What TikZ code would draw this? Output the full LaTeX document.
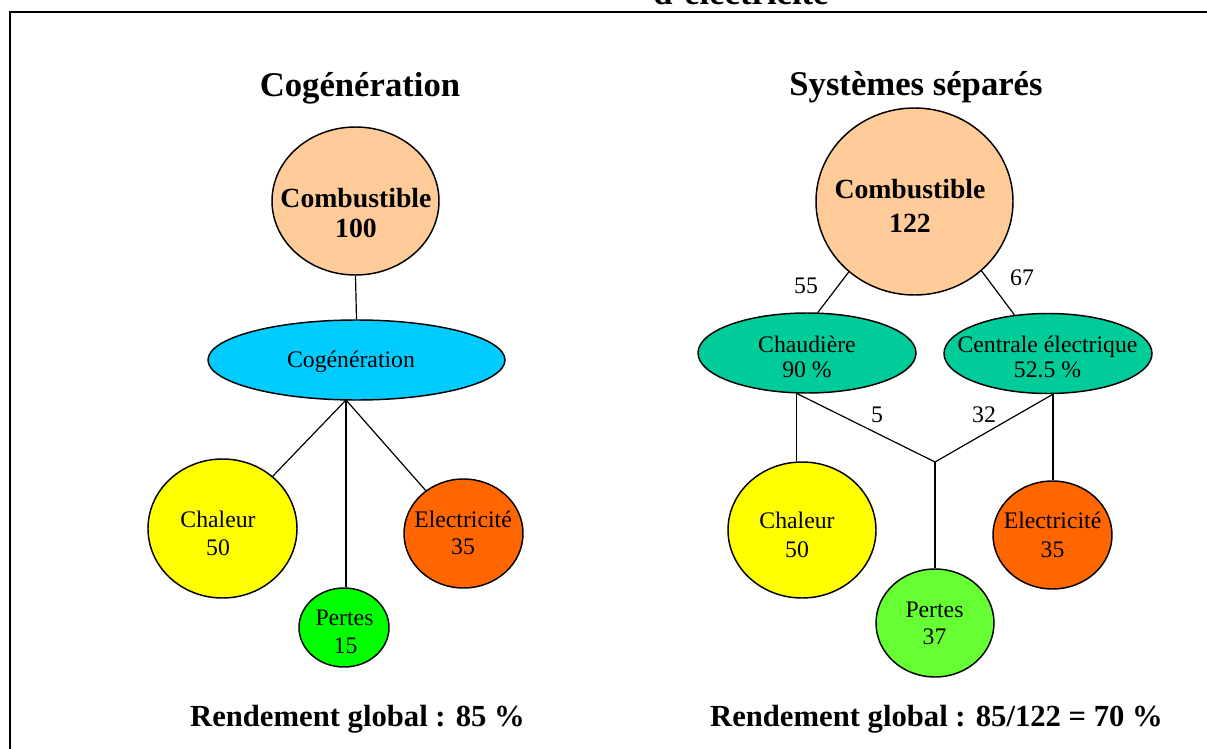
\documentclass[tikz,border=0pt]{standalone}
\usepackage{fontspec}
\setmainfont{Liberation Serif}
\usetikzlibrary{shapes.geometric}
\definecolor{peach}{HTML}{FFCC99}
\definecolor{cyanb}{HTML}{00CCFF}
\definecolor{yel}{HTML}{FFFF00}
\definecolor{grnA}{HTML}{00FF00}
\definecolor{grnB}{HTML}{66FF33}
\definecolor{orng}{HTML}{FF6600}
\definecolor{tealg}{HTML}{00CC99}
\begin{document}
\begin{tikzpicture}[x=0.75pt,y=-0.75pt,
  blob/.style={ellipse, draw=black, line width=1.1pt, inner sep=0pt},
  link/.style={line width=0.9pt},
  txt/.style={font=\fontsize{17.8}{21.5}\selectfont, anchor=base, inner sep=0pt},
  btxt/.style={font=\bfseries\fontsize{20.8}{22.5}\selectfont, anchor=base, inner sep=0pt},
  ttl/.style={font=\bfseries\fontsize{26}{30}\selectfont, anchor=base, inner sep=0pt},
  summ/.style={font=\bfseries\fontsize{23}{27}\selectfont, anchor=base, inner sep=0pt}]
\useasboundingbox (0,0) rectangle (1207,749);
% frame and cut title
\node[ttl] (cut) at (741,5) {d’électricité};
\draw[line width=1.5pt] (1207,12) -- (10,12) -- (10,749);

% ---------- left: cogeneration ----------
\node[ttl] (t1) at (360,97) {Cogénération};
\node[blob, fill=peach, minimum width=125.25pt, minimum height=111pt] (comb1) at (355.5,201) {};
\node[btxt] (comb1a) at (356,207) {Combustible};
\node[btxt] (comb1b) at (356,237) {100};
\node[blob, fill=cyanb, minimum width=222.75pt, minimum height=60pt] (cogen) at (356.5,360) {};
\node[txt] (cogenT) at (351,367) {Cogénération};
\node[blob, fill=yel, minimum width=111.75pt, minimum height=104.25pt] (chal1) at (222.5,528.5) {};
\node[txt] (chal1a) at (218,527) {Chaleur};
\node[txt] (chal1b) at (218,555) {50};
\node[blob, fill=grnA, minimum width=67.5pt, minimum height=59.25pt] (pert1) at (344,627.5) {};
\node[txt] (pert1a) at (344.5,625) {Pertes};
\node[txt] (pert1b) at (345.5,653) {15};
\node[blob, fill=orng, minimum width=89.25pt, minimum height=81.75pt] (elec1) at (463.5,533.5) {};
\node[txt] (elec1a) at (463,527) {Electricité};
\node[txt] (elec1b) at (463,554) {35};
\coordinate (hubL) at (346,400);
\draw[link] (comb1.south) -- (cogen.north);
\draw[link] (hubL) -- (chal1);
\draw[link] (hubL) -- (hubL |- pert1.north);
\draw[link] (hubL) -- (elec1);
\node[summ] (s1) at (357.5,726) {Rendement global : 85 \%};

% ---------- right: separate systems ----------
\node[ttl] (t2) at (916,95) {Systèmes séparés};
\node[blob, fill=peach, minimum width=147.75pt, minimum height=140.25pt] (comb2) at (914.5,201.5) {};
\node[btxt] (comb2a) at (910,198) {Combustible};
\node[btxt] (comb2b) at (910,232) {122};
\node[blob, fill=tealg, minimum width=163.5pt, minimum height=60pt] (chaud) at (807,353) {};
\node[txt] (chauda) at (807,352) {Chaudière};
\node[txt] (chaudb) at (807,377) {90 \%};
\node[blob, fill=tealg, minimum width=156pt, minimum height=60pt] (cent) at (1048,353.5) {};
\node[txt] (centa) at (1047.5,352) {Centrale électrique};
\node[txt] (centb) at (1047.5,377) {52.5 \%};
\node[blob, fill=yel, minimum width=111pt, minimum height=102pt] (chal2) at (802,530) {};
\node[txt] (chal2a) at (797,528) {Chaleur};
\node[txt] (chal2b) at (797,557) {50};
\node[blob, fill=grnB, minimum width=88.5pt, minimum height=81pt] (pert2) at (935,623) {};
\node[txt] (pert2a) at (934.5,617) {Pertes};
\node[txt] (pert2b) at (934.5,644) {37};
\node[blob, fill=orng, minimum width=89.25pt, minimum height=81pt] (elec2) at (1052.5,535) {};
\node[txt] (elec2a) at (1052.5,528) {Electricité};
\node[txt] (elec2b) at (1052.5,557) {35};
\coordinate (hubR) at (935,462);
\draw[link] (comb2.227) -- (chaud.75);
\draw[link] (comb2.314) -- (cent.131);
\draw[link] (chaud.256) -- (chaud.256 |- chal2.north);
\draw[link] (cent.277) -- (cent.277 |- elec2.north);
\draw[link] (chaud.256) -- (hubR) -- (cent.277);
\draw[link] (hubR) -- (pert2.north);
\node[txt] (l55) at (806,293) {55};
\node[txt] (l67) at (1022,285) {67};
\node[txt] (l5) at (877,422) {5};
\node[txt] (l32) at (984,422) {32};
\node[summ] (s2) at (936.5,726) {Rendement global : 85/122 = 70 \%};
\end{tikzpicture}
\end{document}
